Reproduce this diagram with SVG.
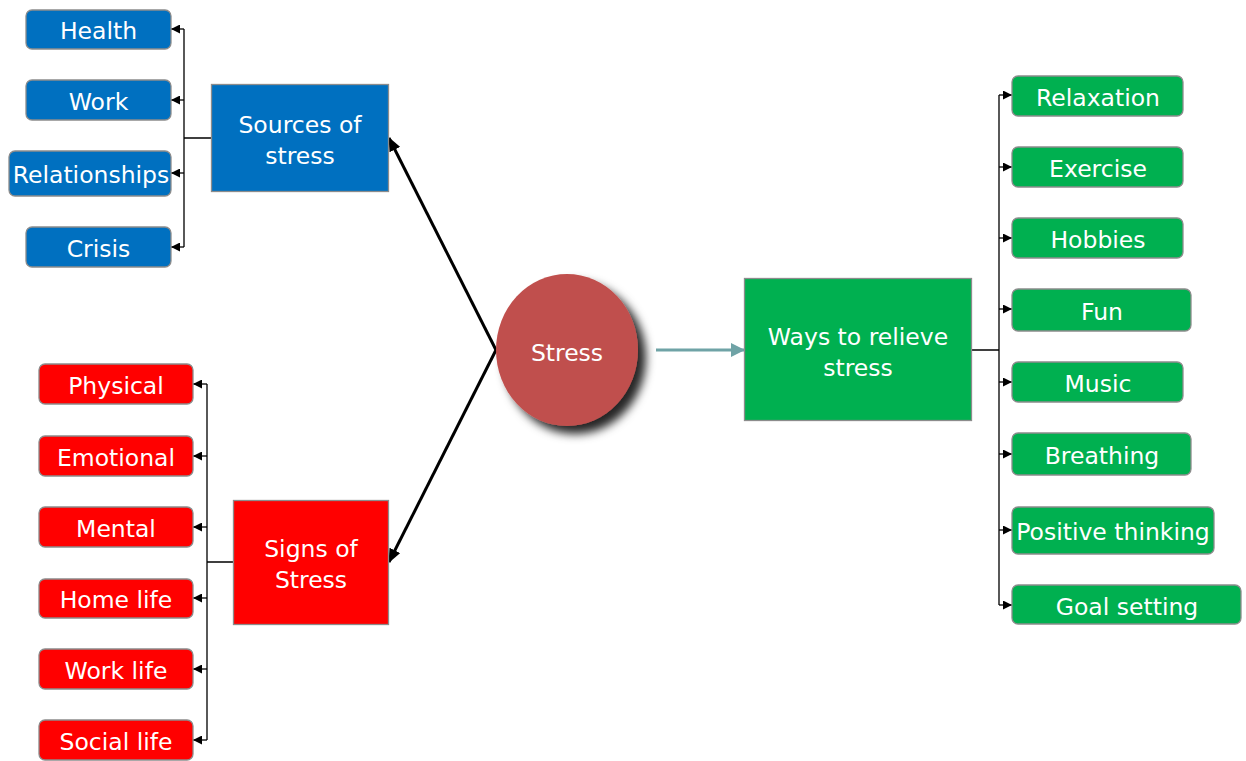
<svg xmlns="http://www.w3.org/2000/svg" width="1246" height="761" viewBox="0 0 1246 761">
<style>
text{font-family:"DejaVu Sans","Liberation Sans",sans-serif;font-size:23.5px;fill:#fff;text-anchor:middle}
.blue{fill:#0070C0;stroke:#8c8c8c;stroke-width:1.3}
.red{fill:#FF0000;stroke:#8c8c8c;stroke-width:1.3}
.green{fill:#00B050;stroke:#8c8c8c;stroke-width:1.3}
.thin{stroke:#000;stroke-width:1.3;fill:none}
.ta{stroke:#000;stroke-width:1.3;fill:none;marker-end:url(#sa)}
.thick{stroke:#000;stroke-width:3;fill:none;marker-end:url(#ba)}
</style>
<defs>
<marker id="sa" markerUnits="userSpaceOnUse" markerWidth="9" markerHeight="9" refX="9" refY="4.5" orient="auto"><path d="M0,0 L9,4.5 L0,9 z" fill="#000"/></marker>
<marker id="ba" markerUnits="userSpaceOnUse" markerWidth="14" markerHeight="12" refX="13" refY="6" orient="auto"><path d="M0,0 L14,6 L0,12 z" fill="#000"/></marker>
<marker id="tealA" markerUnits="userSpaceOnUse" markerWidth="14" markerHeight="14" refX="13" refY="7" orient="auto"><path d="M0,0 L14,7 L0,14 z" fill="#6FA3A6"/></marker>
<filter id="sh" x="-30%" y="-30%" width="170%" height="170%"><feDropShadow dx="8" dy="8" stdDeviation="5" flood-color="#000" flood-opacity="0.85"/></filter>
</defs>
<g id="connectors">
<path class="thin" d="M211,138 H184 M184,29 V247"/>
<path class="ta" d="M184,29 H171"/>
<path class="ta" d="M184,100 H171"/>
<path class="ta" d="M184,173 H171"/>
<path class="ta" d="M184,247 H171"/>
<path class="thin" d="M234,562 H207 M207,384 V740"/>
<path class="ta" d="M207,384 H193"/>
<path class="ta" d="M207,456 H193"/>
<path class="ta" d="M207,527 H193"/>
<path class="ta" d="M207,598 H193"/>
<path class="ta" d="M207,669 H193"/>
<path class="ta" d="M207,740 H193"/>
<path class="thin" d="M972,350 H999 M999,95 V605"/>
<path class="ta" d="M999,95 H1012"/>
<path class="ta" d="M999,167 H1012"/>
<path class="ta" d="M999,238 H1012"/>
<path class="ta" d="M999,309 H1012"/>
<path class="ta" d="M999,382 H1012"/>
<path class="ta" d="M999,454 H1012"/>
<path class="ta" d="M999,530 H1012"/>
<path class="ta" d="M999,605 H1012"/>
<path class="thick" d="M496,350 L389,138"/>
<path class="thick" d="M496,350 L389,562"/>
<path d="M656,350 H744" stroke="#6FA3A6" stroke-width="3" fill="none" marker-end="url(#tealA)"/>
</g>
<g id="stress"><ellipse cx="567" cy="350" rx="71" ry="76" fill="#C0504D" filter="url(#sh)"/><text x="567" y="361">Stress</text></g>
<g id="sources"><rect class="blue" x="211.5" y="84.5" width="177" height="107"/><text x="300" y="133">Sources of</text><text x="300" y="164">stress</text></g>
<g id="signs"><rect class="red" x="233.5" y="500.5" width="155" height="124"/><text x="311" y="557">Signs of</text><text x="311" y="588">Stress</text></g>
<g id="ways"><rect class="green" x="744.5" y="278.5" width="227" height="142"/><text x="858" y="345">Ways to relieve</text><text x="858" y="376">stress</text></g>
<g id="health"><rect class="blue" x="26" y="10" width="145" height="39" rx="6"/><text x="98.5" y="39">Health</text></g>
<g id="work"><rect class="blue" x="26" y="80" width="145" height="40" rx="6"/><text x="98.5" y="110">Work</text></g>
<g id="relationships"><rect class="blue" x="9" y="151" width="162" height="45" rx="6"/><text x="91" y="183">Relationships</text></g>
<g id="crisis"><rect class="blue" x="26" y="227" width="145" height="40" rx="6"/><text x="98.5" y="257">Crisis</text></g>
<g id="physical"><rect class="red" x="39" y="364" width="154" height="40" rx="6"/><text x="116" y="394">Physical</text></g>
<g id="emotional"><rect class="red" x="39" y="436" width="154" height="40" rx="6"/><text x="116" y="466">Emotional</text></g>
<g id="mental"><rect class="red" x="39" y="507" width="154" height="40" rx="6"/><text x="116" y="537">Mental</text></g>
<g id="homelife"><rect class="red" x="39" y="579" width="154" height="39" rx="6"/><text x="116" y="608">Home life</text></g>
<g id="worklife"><rect class="red" x="39" y="649" width="154" height="40" rx="6"/><text x="116" y="679">Work life</text></g>
<g id="sociallife"><rect class="red" x="39" y="720" width="154" height="40" rx="6"/><text x="116" y="750">Social life</text></g>
<g id="relaxation"><rect class="green" x="1012" y="76" width="171" height="40" rx="6"/><text x="1098" y="106">Relaxation</text></g>
<g id="exercise"><rect class="green" x="1012" y="147" width="171" height="40" rx="6"/><text x="1098" y="177">Exercise</text></g>
<g id="hobbies"><rect class="green" x="1012" y="218" width="171" height="40" rx="6"/><text x="1098" y="248">Hobbies</text></g>
<g id="fun"><rect class="green" x="1012" y="289" width="179" height="42" rx="6"/><text x="1102" y="320">Fun</text></g>
<g id="music"><rect class="green" x="1012" y="362" width="171" height="40" rx="6"/><text x="1098" y="392">Music</text></g>
<g id="breathing"><rect class="green" x="1012" y="433" width="179" height="42" rx="6"/><text x="1102" y="464">Breathing</text></g>
<g id="positive"><rect class="green" x="1012" y="507" width="202" height="47" rx="6"/><text x="1113" y="540">Positive thinking</text></g>
<g id="goal"><rect class="green" x="1012" y="585" width="229" height="39" rx="6"/><text x="1127" y="615">Goal setting</text></g>
</svg>
